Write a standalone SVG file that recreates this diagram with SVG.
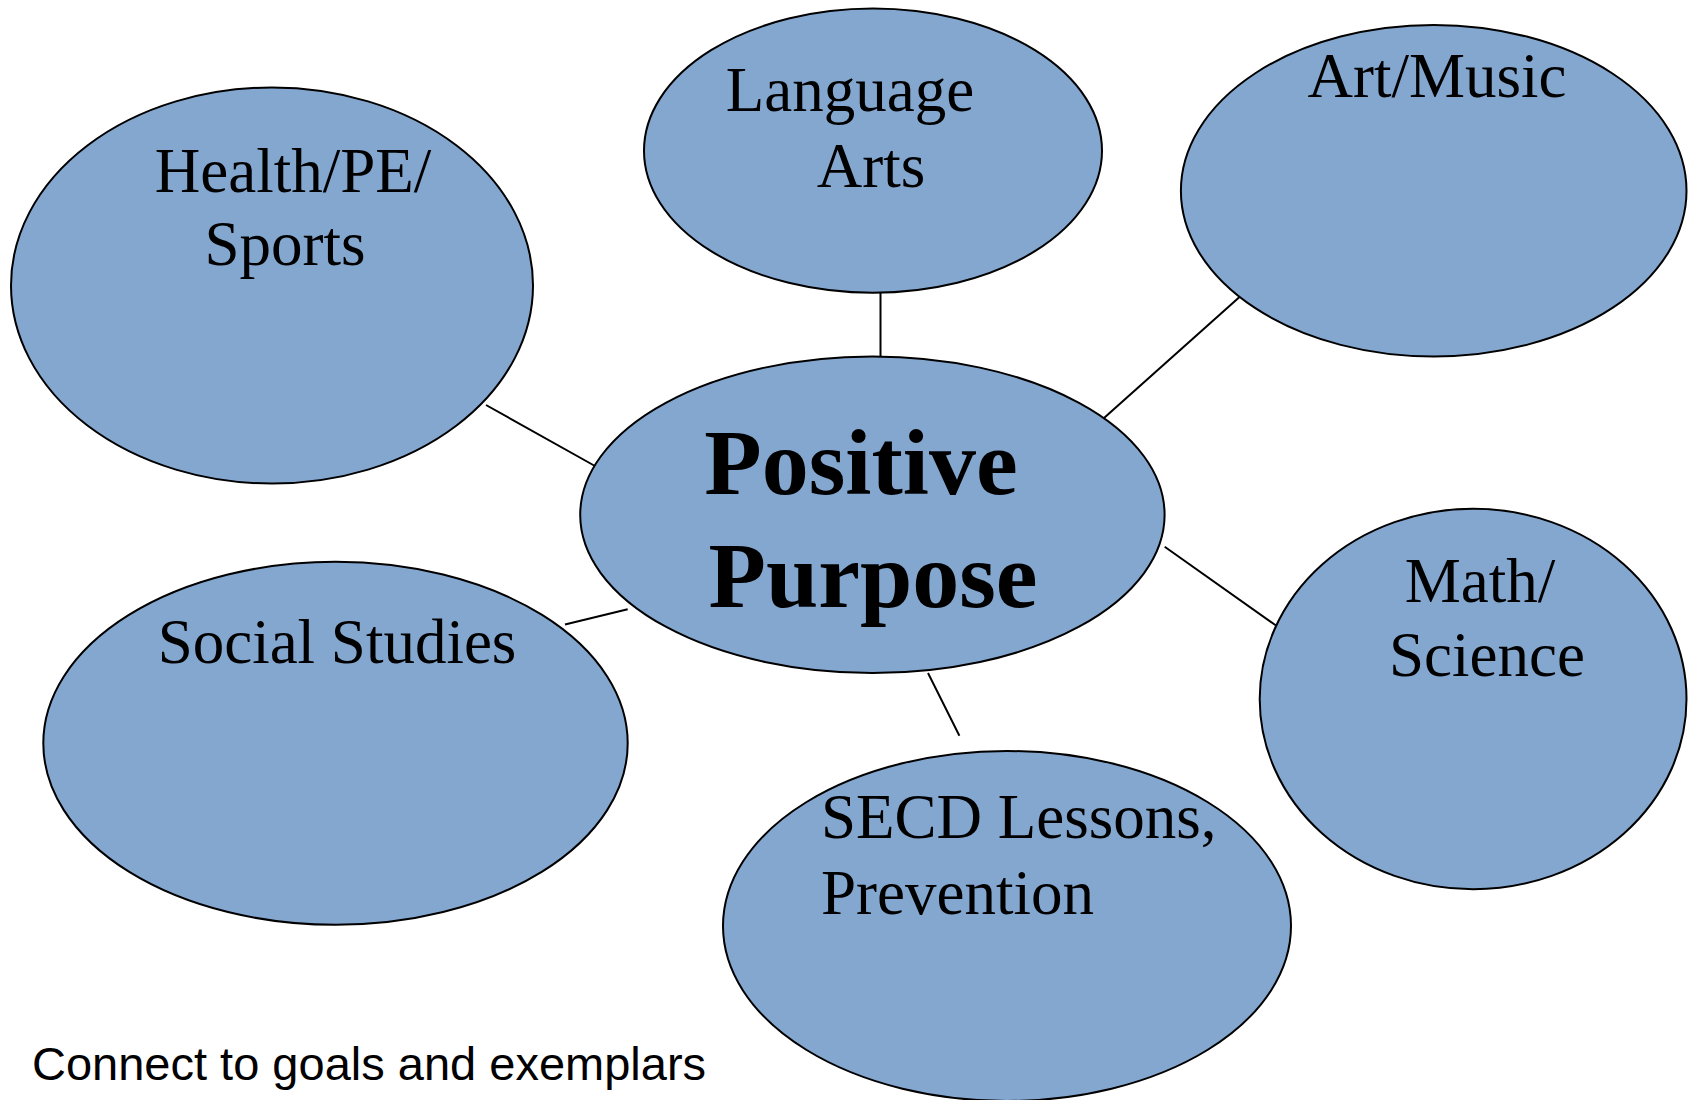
<svg xmlns="http://www.w3.org/2000/svg" width="1694" height="1100" viewBox="0 0 1694 1100">
<style>
.node{fill:#84A7D0;stroke:#000;stroke-width:2}
.lbl{font-family:"Liberation Serif","Times New Roman",serif;font-size:63px;fill:#000}
.big{font-family:"Liberation Serif","Times New Roman",serif;font-size:94px;font-weight:bold;fill:#000;text-anchor:middle}
.c{text-anchor:middle}
.conn line{stroke:#000;stroke-width:2}
.note{font-family:"Liberation Sans",Arial,sans-serif;font-size:47px;fill:#000}
</style>
<rect width="1694" height="1100" fill="#fff"/>
<g id="connectors" class="conn">
<line x1="880.5" y1="292.8" x2="880.5" y2="356.5"/>
<line x1="1104" y1="418" x2="1244" y2="293"/>
<line x1="486" y1="405" x2="595" y2="466"/>
<line x1="565" y1="624.5" x2="627.7" y2="609.3"/>
<line x1="928" y1="673" x2="959.4" y2="735.7"/>
<line x1="1164.7" y1="546.7" x2="1276" y2="625.5"/>
</g>
<g id="language-arts">
<ellipse class="node" cx="873" cy="150.7" rx="229" ry="142.1"/>
<text class="lbl c" x="850" y="111">Language</text>
<text class="lbl c" x="871" y="187">Arts</text>
</g>
<g id="art-music">
<ellipse class="node" cx="1433.7" cy="190.7" rx="252.8" ry="165.8"/>
<text class="lbl c" x="1437" y="97">Art/Music</text>
</g>
<g id="health">
<ellipse class="node" cx="272" cy="285.5" rx="261" ry="198"/>
<text class="lbl c" x="293" y="192">Health/PE/</text>
<text class="lbl c" x="285" y="265">Sports</text>
</g>
<g id="social-studies">
<ellipse class="node" cx="335.5" cy="743.3" rx="292.2" ry="181.5"/>
<text class="lbl c" x="337" y="663">Social Studies</text>
</g>
<g id="math-science">
<ellipse class="node" cx="1473.1" cy="699" rx="213.4" ry="190.2"/>
<text class="lbl c" x="1480" y="602">Math/</text>
<text class="lbl c" x="1487" y="676">Science</text>
</g>
<g id="secd">
<ellipse class="node" cx="1007" cy="926" rx="284" ry="175"/>
<text class="lbl" x="821" y="838">SECD Lessons,</text>
<text class="lbl" x="821" y="914">Prevention</text>
</g>
<g id="positive-purpose">
<ellipse class="node" cx="872.4" cy="514.8" rx="292.2" ry="158.3"/>
<text class="big" x="861" y="494">Positive</text>
<text class="big" x="873" y="607">Purpose</text>
</g>
<text class="note" x="32" y="1080">Connect to goals and exemplars</text>
</svg>
